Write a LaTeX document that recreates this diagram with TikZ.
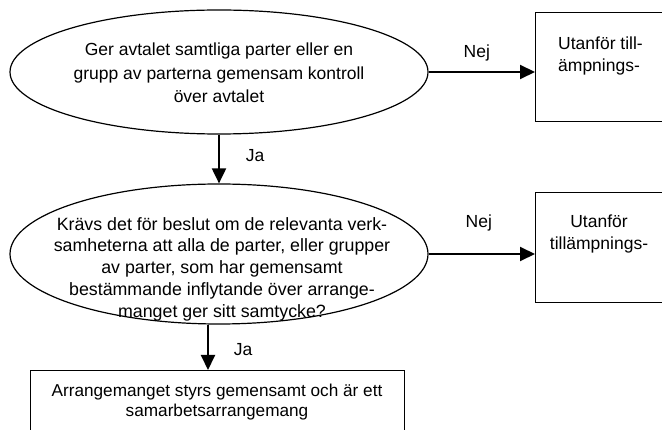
\documentclass[tikz,border=0pt]{standalone}
\usepackage{fontspec}
\setmainfont{Liberation Sans}
\usetikzlibrary{arrows.meta,shapes.geometric}
\begin{document}
\begin{tikzpicture}[x=1pt,y=1pt,
  line/.style={draw=black,line width=1.2pt},
  arr/.style={line width=2pt,-{Triangle[length=15pt,width=14pt]}},
  txt/.style={font=\fontsize{17.5}{22}\selectfont,inner sep=0pt,align=center},
  oval/.style={ellipse,line,inner sep=0pt},
  boxr/.style={rectangle,line,inner sep=0pt,anchor=north west}]
\useasboundingbox (0,0) rectangle (662,-430);
% ellipses
\node[oval,minimum width=418pt,minimum height=124pt] (e1) at (219,-72) {};
\node[oval,minimum width=418pt,minimum height=140pt] (e2) at (219,-254) {};
% boxes
\node[boxr,minimum width=150pt,minimum height=109pt] (b1) at (535,-12) {};
\node[boxr,minimum width=150pt,minimum height=110pt] (b2) at (535,-192) {};
\node[boxr,minimum width=374pt,minimum height=90pt] (b3) at (30,-370) {};
% texts
\node[txt,font=\fontsize{17.5}{23.5}\selectfont] (t1) at (219,-73) {Ger avtalet samtliga parter eller en\\grupp av parterna gemensam kontroll\\över avtalet};
\node[txt,font=\fontsize{17.8}{21.8}\selectfont] (t2) at (222,-269) {Krävs det för beslut om de relevanta verk-\\samheterna att alla de parter, eller grupper\\av parter, som har gemensamt\\bestämmande inflytande över arrange-\\manget ger sitt samtycke?};
\node[txt,align=left,anchor=west] (t3) at (558,-56) {Utanför till-\\ämpnings-};
\node[txt] (t4) at (599,-234) {Utanför\\tillämpnings-};
\node[txt,font=\fontsize{17.2}{19.5}\selectfont] (t5) at (217,-402) {Arrangemanget styrs gemensamt och är ett\\samarbetsarrangemang};
% connectors
\draw[arr] (e1.south) -- (e2.north) node[midway,xshift=36pt,yshift=3pt,txt] (ja1) {Ja};
\draw[arr] (e1.east) -- (b1.west |- e1.east) node[midway,xshift=-5pt,yshift=19pt,txt] (nej1) {Nej};
\draw[arr] (e2.east) -- (b2.west |- e2.east) node[midway,xshift=-3pt,yshift=31pt,txt] (nej2) {Nej};
\draw[arr] ([xshift=-11pt]e2.south) -- ([xshift=-11pt]e2.south |- b3.north) node[midway,xshift=35pt,yshift=-2pt,txt] (ja2) {Ja};
\end{tikzpicture}
\end{document}
